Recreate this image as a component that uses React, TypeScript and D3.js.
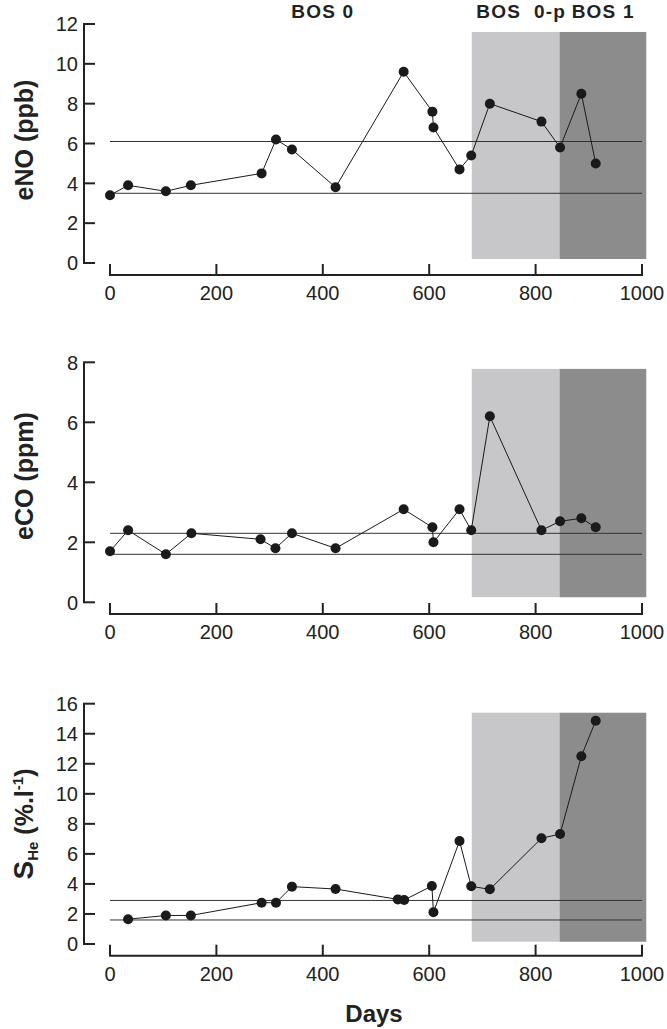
import React from "react";
import * as d3 from "d3";

// ---- data ----
const daysNO = [0, 34, 105, 152, 285, 312, 342, 424, 552, 606, 608, 657, 679, 714, 811, 846, 886, 913];
const valuesNO = [3.4, 3.9, 3.6, 3.9, 4.5, 6.2, 5.7, 3.8, 9.6, 7.6, 6.8, 4.7, 5.4, 8.0, 7.1, 5.8, 8.5, 5.0];
const refsNO = [6.1, 3.5];

const daysCO = [0, 34, 105, 153, 283, 311, 342, 424, 552, 606, 608, 657, 679, 714, 811, 846, 886, 913];
const valuesCO = [1.7, 2.4, 1.6, 2.3, 2.1, 1.8, 2.3, 1.8, 3.1, 2.5, 2.0, 3.1, 2.4, 6.2, 2.4, 2.7, 2.8, 2.5];
const refsCO = [2.3, 1.6];

const daysHe = [34, 105, 152, 285, 312, 342, 424, 541, 553, 605, 608, 657, 679, 714, 811, 846, 886, 913];
const valuesHe = [1.65, 1.9, 1.9, 2.75, 2.75, 3.82, 3.66, 2.97, 2.93, 3.86, 2.11, 6.86, 3.84, 3.64, 7.04, 7.32, 12.5, 14.87];
const refsHe = [2.9, 1.6];

const xTicks = [0, 200, 400, 600, 800, 1000];
const phaseBounds = [680, 845, 1008]; // BOS 0-p start, BOS 1 start, end
const phaseLabels = ["BOS 0", "BOS  0-p", "BOS 1"];
const phaseLabelDays = [400, 773, 927];

// ---- layout ----
const W = 667;
const H = 1029;
const xLeft = 110;
const xRight = 642;
const yAxisX = 84;
const ink = "#222";

const x = d3.scaleLinear().domain([0, 1000]).range([xLeft, xRight]);

type Panel = {
  days: number[];
  values: number[];
  refs: number[];
  yMax: number;
  yTop: number;
  yBottom: number;
  axisY: number;
  shade: [number, number];
  label: React.ReactNode;
  labelY: number;
};

const panels: Panel[] = [
  {
    days: daysNO, values: valuesNO, refs: refsNO, yMax: 12,
    yTop: 24, yBottom: 263, axisY: 275, shade: [0.2, 11.6],
    label: <tspan>eNO (ppb)</tspan>, labelY: 140,
  },
  {
    days: daysCO, values: valuesCO, refs: refsCO, yMax: 8,
    yTop: 362.3, yBottom: 602.3, axisY: 614, shade: [0.17, 7.78],
    label: <tspan>eCO (ppm)</tspan>, labelY: 476,
  },
  {
    days: daysHe, values: valuesHe, refs: refsHe, yMax: 16,
    yTop: 703.7, yBottom: 944, axisY: 955.7, shade: [0.15, 15.4],
    label: (
      <>
        <tspan fontSize={28}>S</tspan>
        <tspan fontSize={15} dy={5}>He</tspan>
        <tspan fontSize={25} dy={-5}> (%.l</tspan>
        <tspan fontSize={15} dy={-10}>-1</tspan>
        <tspan fontSize={25} dy={10}>)</tspan>
      </>
    ),
    labelY: 824,
  },
];

function PanelView({ p }: { p: Panel }) {
  const y = d3.scaleLinear().domain([0, p.yMax]).range([p.yBottom, p.yTop]);
  const yTicks = d3.range(0, p.yMax + 0.001, 2);
  const pts = p.days.map((d, i) => [d, p.values[i]] as [number, number]);
  const line = d3
    .line<[number, number]>()
    .x((d) => x(d[0]))
    .y((d) => y(d[1]));
  const shadeTop = y(p.shade[1]);
  const shadeBot = y(p.shade[0]);
  return (
    <g>
      {/* shaded phases */}
      <rect x={x(phaseBounds[0])} y={shadeTop} width={x(phaseBounds[1]) - x(phaseBounds[0])} height={shadeBot - shadeTop} fill="#c7c7c9" />
      <rect x={x(phaseBounds[1])} y={shadeTop} width={x(phaseBounds[2]) - x(phaseBounds[1])} height={shadeBot - shadeTop} fill="#8c8c8c" />
      {/* reference lines */}
      {p.refs.map((r, i) => (
        <line key={i} x1={x(0)} x2={x(1000)} y1={y(r)} y2={y(r)} stroke="#333" strokeWidth={1} />
      ))}
      {/* y axis */}
      <line x1={yAxisX} x2={yAxisX} y1={p.yTop} y2={p.yBottom} stroke={ink} strokeWidth={2} />
      {yTicks.map((t) => (
        <g key={t}>
          <line x1={yAxisX - 1} x2={yAxisX + 11} y1={y(t)} y2={y(t)} stroke={ink} strokeWidth={2} />
          <text x={78} y={y(t)} dy="0.36em" textAnchor="end" fontSize={20} fill={ink}>
            {t}
          </text>
        </g>
      ))}
      {/* x axis */}
      <line x1={x(0) - 1} x2={x(1000) + 1} y1={p.axisY} y2={p.axisY} stroke={ink} strokeWidth={2} />
      {xTicks.map((t) => (
        <g key={t}>
          <line x1={x(t)} x2={x(t)} y1={p.axisY} y2={p.axisY - 11} stroke={ink} strokeWidth={2} />
          <text x={x(t)} y={p.axisY + 25} textAnchor="middle" fontSize={20} fill={ink}>
            {t}
          </text>
        </g>
      ))}
      {/* data */}
      <path d={line(pts) || ""} fill="none" stroke="#1a1a1a" strokeWidth={1} />
      {pts.map((d, i) => (
        <circle key={i} cx={x(d[0])} cy={y(d[1])} r={5} fill="#1a1a1a" />
      ))}
      {/* y label */}
      <text
        transform={`translate(33,${p.labelY}) rotate(-90)`}
        textAnchor="middle"
        fontSize={25}
        fontWeight="bold"
        fill={ink}
      >
        {p.label}
      </text>
    </g>
  );
}

export default function App() {
  return (
    <div style={{ position: "absolute", left: 0, top: 0 }}>
      <svg width={W} height={H} style={{ display: "block", fontFamily: "'Liberation Sans', Arial, sans-serif" }}>
        <rect width={W} height={H} fill="#fff" />
        {panels.map((p, i) => (
          <PanelView key={i} p={p} />
        ))}
        {phaseLabels.map((l, i) => (
          <text
            key={l}
            x={x(phaseLabelDays[i])}
            y={18}
            textAnchor="middle"
            fontSize={19}
            fontWeight="bold"
            letterSpacing={1.2}
            fill={ink}
            style={{ whiteSpace: "pre" }}
          >
            {l}
          </text>
        ))}
        <text x={374} y={1022} textAnchor="middle" fontSize={24} fontWeight="bold" fill={ink}>
          Days
        </text>
      </svg>
    </div>
  );
}
